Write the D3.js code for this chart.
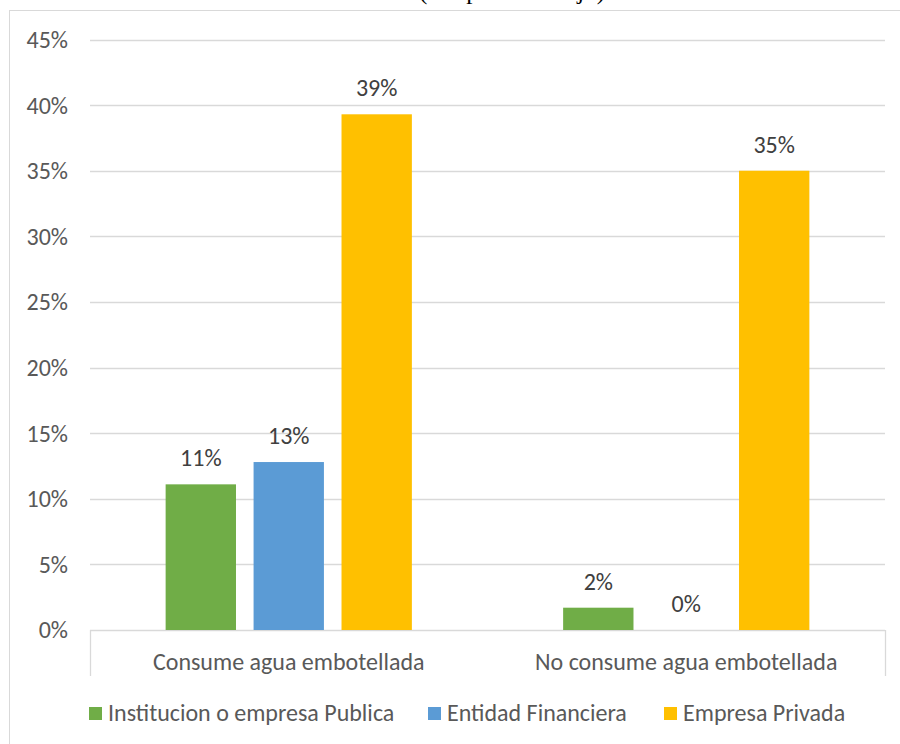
<!DOCTYPE html>
<html>
<head>
<meta charset="utf-8">
<script src="https://cdn.jsdelivr.net/npm/d3@7"></script>
<style>
  body { margin: 0; background: #fff; }
  svg { display: block; }
  text { font-family: Carlito, Lato, sans-serif; }
</style>
</head>
<body>
<svg id="chart" width="900" height="744"></svg>
<script>
// data
const categories = ["Consume agua embotellada", "No consume agua embotellada"];
const seriesNames = ["Institucion o empresa Publica", "Entidad Financiera", "Empresa Privada"];
const publica = [11.1, 1.7];
const financiera = [12.8, 0];
const privada = [39.3, 35.0];
const yTicks = [0, 5, 10, 15, 20, 25, 30, 35, 40, 45];
const colors = ["#70ad47", "#5b9bd5", "#ffc000"];

const seriesValues = [publica, financiera, privada];

const svg = d3.select("#chart");
const plotLeft = 90, plotRight = 885, plotTop = 39.5, plotBottom = 630;
const fontSize = "24px";

// clipped title from the page above the chart
svg.append("text")
  .attr("x", 512).attr("y", -1)
  .attr("text-anchor", "middle")
  .style("font-family", "'Liberation Serif', serif")
  .style("font-size", "25px")
  .attr("fill", "#000")
  .text("(Grupo de trabajo)");

// chart frame
svg.append("rect")
  .attr("x", 9.5).attr("y", 10.5)
  .attr("width", 1000).attr("height", 1000)
  .attr("fill", "none")
  .attr("stroke", "#d9d9d9");

const y = d3.scaleLinear().domain([0, 45]).range([plotBottom, plotTop]);
const x0 = d3.scaleBand().domain(categories).range([plotLeft, plotRight]);
const x1 = d3.scaleBand().domain(seriesNames)
  .range([0, x0.bandwidth()])
  .paddingInner(0.2).paddingOuter(0.86);

// gridlines
svg.append("g")
  .selectAll("line")
  .data(yTicks)
  .enter().append("line")
  .attr("x1", plotLeft).attr("x2", plotRight)
  .attr("y1", d => Math.round(y(d)) + 0.5)
  .attr("y2", d => Math.round(y(d)) + 0.5)
  .attr("stroke", "#d9d9d9")
  .attr("stroke-width", 1.3);

// y labels
svg.append("g")
  .selectAll("text")
  .data(yTicks)
  .enter().append("text")
  .attr("x", 68)
  .attr("y", d => y(d))
  .attr("dy", "0.35em")
  .attr("text-anchor", "end")
  .attr("fill", "#595959")
  .style("font-size", fontSize)
  .text(d => d + "%");

// category box edges
svg.append("g")
  .selectAll("line")
  .data([plotLeft, plotRight])
  .enter().append("line")
  .attr("x1", d => d + 0.5).attr("x2", d => d + 0.5)
  .attr("y1", plotBottom).attr("y2", 676)
  .attr("stroke", "#d9d9d9")
  .attr("stroke-width", 1.3);

// bars
const groups = svg.append("g")
  .selectAll("g")
  .data(categories)
  .enter().append("g")
  .attr("transform", d => "translate(" + x0(d) + ",0)");

const cells = groups.selectAll("g")
  .data((c, ci) => seriesNames.map((s, si) => ({ series: s, si: si, value: seriesValues[si][ci] })))
  .enter().append("g");

cells.append("rect")
  .attr("x", d => x1(d.series))
  .attr("width", x1.bandwidth())
  .attr("y", d => y(d.value))
  .attr("height", d => plotBottom - y(d.value))
  .attr("fill", d => colors[d.si]);

cells.append("text")
  .attr("x", d => x1(d.series) + x1.bandwidth() / 2)
  .attr("y", d => y(d.value) - 18)
  .attr("text-anchor", "middle")
  .attr("fill", "#404040")
  .style("font-size", fontSize)
  .text(d => d3.format(".0f")(d.value) + "%");

// category labels
svg.append("g")
  .selectAll("text")
  .data(categories)
  .enter().append("text")
  .attr("x", d => x0(d) + x0.bandwidth() / 2)
  .attr("y", 670)
  .attr("text-anchor", "middle")
  .attr("fill", "#595959")
  .style("font-size", fontSize)
  .text(d => d);

// legend
const legendX = [89, 428, 664];
const legend = svg.append("g")
  .selectAll("g")
  .data(seriesNames)
  .enter().append("g")
  .attr("transform", (d, i) => "translate(" + legendX[i] + ",707)");

legend.append("rect")
  .attr("width", 13).attr("height", 13)
  .attr("fill", (d, i) => colors[i]);

legend.append("text")
  .attr("x", 19).attr("y", 13.5)
  .attr("fill", "#595959")
  .style("font-size", fontSize)
  .text(d => d);
</script>
</body>
</html>
